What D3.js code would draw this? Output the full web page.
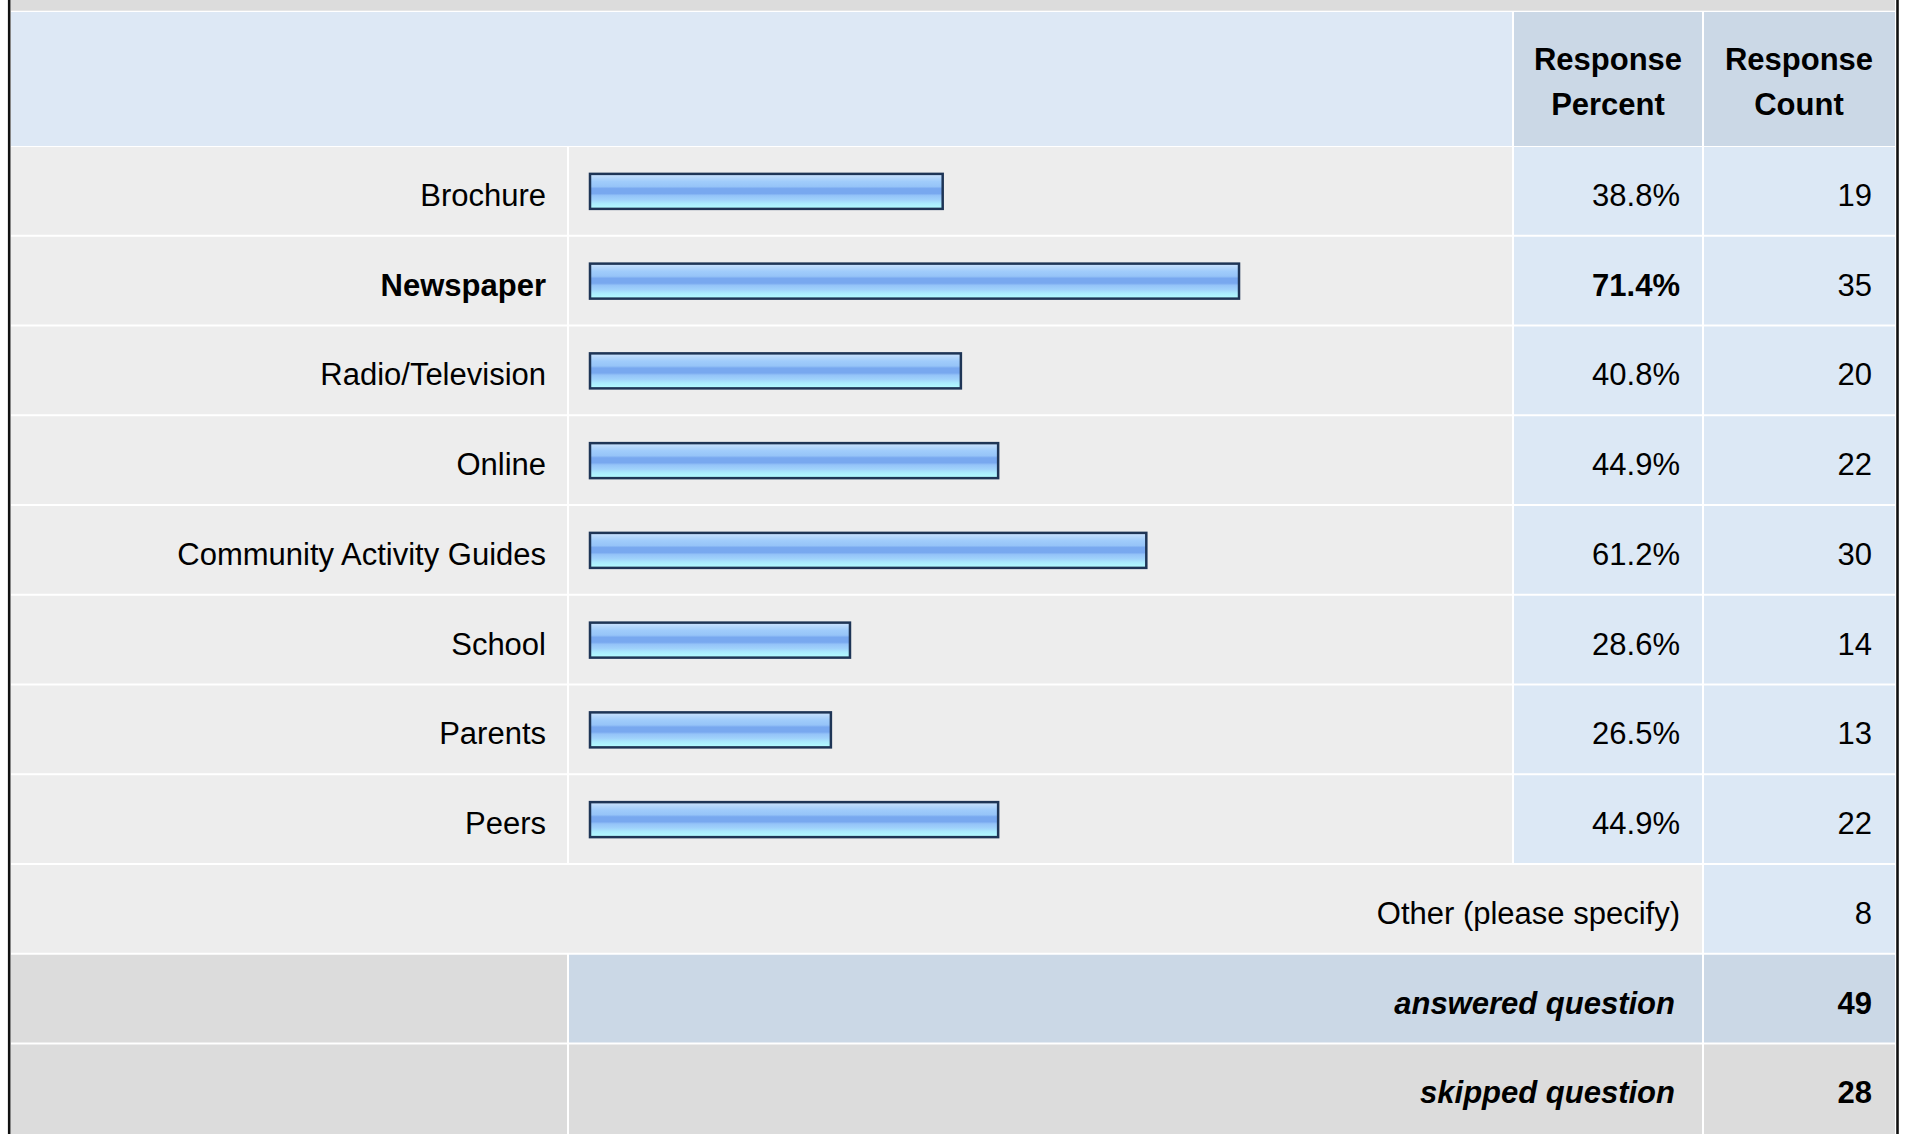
<!DOCTYPE html>
<html>
<head>
<meta charset="utf-8">
<script src="https://cdn.jsdelivr.net/npm/d3@7"></script>
<style>
  body { margin: 0; background: #fff; }
  svg { display: block; font-family: "Liberation Sans", Arial, sans-serif; }
</style>
</head>
<body>
<div id="chart"></div>
<script>
// Survey answers
const categories = ["Brochure", "Newspaper", "Radio/Television", "Online",
  "Community Activity Guides", "School", "Parents", "Peers"];
const percents = [38.8, 71.4, 40.8, 44.9, 61.2, 28.6, 26.5, 44.9];
const counts = [19, 35, 20, 22, 30, 14, 13, 22];
const headerLabels = [["Response", "Percent"], ["Response", "Count"]];
const otherLabel = "Other (please specify)";
const otherCount = 8;
const summaryLabels = ["answered question", "skipped question"];
const summaryCounts = [49, 28];

const W = 1909, H = 1134;
const fontSize = 31;

const svg = d3.select("#chart").append("svg")
    .attr("width", W)
    .attr("height", H);

// column edges (label | bar | percent | count)
const cols = [11, 568, 1513, 1703, 1895];
const cellX = i => cols[i] + (i > 0 ? 1 : 0);
const cellW = (a, b) => cols[b] - cellX(a) - (b < 4 ? 1 : 0);

// row positions: 0 = first data row, header sits above
const rowY = d3.scaleLinear().domain([0, 1]).range([147, 147 + 89.75]);
const rowH = 87.75;

// bar scale
const x = d3.scaleLinear().domain([0, 100]).range([590, 1499]);

const maxIdx = percents.indexOf(d3.max(percents));

// gradient for the bars
const defs = svg.append("defs");
const grad = defs.append("linearGradient")
    .attr("id", "barGrad")
    .attr("x1", "0%").attr("y1", "0%").attr("x2", "0%").attr("y2", "100%");
[["0%", "#cfe4fd"], ["12%", "#b3d6fb"], ["22%", "#a0ccfb"], ["36%", "#96c4f8"],
 ["42%", "#78a8ef"], ["56%", "#78a8ef"], ["62%", "#94c3f8"], ["74%", "#a0d2fb"],
 ["84%", "#aaeafd"], ["100%", "#b4ffff"]].forEach(s => {
  grad.append("stop").attr("offset", s[0]).attr("stop-color", s[1]);
});

// top strip from the previous table row
svg.append("rect")
    .attr("x", cellX(0)).attr("y", 0)
    .attr("width", cellW(0, 4)).attr("height", 10.7)
    .attr("fill", "#dcdcdc");

// header
svg.append("rect")
    .attr("x", cellX(0)).attr("y", 12)
    .attr("width", cellW(0, 2)).attr("height", 134)
    .attr("fill", "#dde8f5");
headerLabels.forEach((lines, j) => {
  const c = j + 2;
  svg.append("rect")
      .attr("x", cellX(c)).attr("y", 12)
      .attr("width", cellW(c, c + 1)).attr("height", 134)
      .attr("fill", "#cbd8e6");
  const cx = (cols[c] + cols[c + 1]) / 2;
  lines.forEach((t, k) => {
    svg.append("text")
        .attr("x", cx).attr("y", 70 + k * 45)
        .attr("text-anchor", "middle")
        .attr("font-size", fontSize)
        .attr("font-weight", "bold")
        .text(t);
  });
});

// data rows
const rows = svg.selectAll(".row")
  .data(categories)
  .join("g")
    .attr("class", "row")
    .attr("transform", (d, i) => `translate(0,${rowY(i)})`);

const fills = ["#ededed", "#ededed", "#dce8f5", "#dce8f5"];
fills.forEach((f, c) => {
  rows.append("rect")
      .attr("x", cellX(c)).attr("y", 0)
      .attr("width", cellW(c, c + 1)).attr("height", rowH)
      .attr("fill", f);
});

const baseY = rowH / 2 + 15;

rows.append("text")
    .attr("x", 546).attr("y", baseY)
    .attr("text-anchor", "end")
    .attr("font-size", fontSize)
    .attr("font-weight", (d, i) => i === maxIdx ? "bold" : "normal")
    .text(d => d);

rows.append("rect")
    .attr("x", x(0))
    .attr("y", rowH / 2 - 17)
    .attr("width", (d, i) => x(percents[i]) - x(0))
    .attr("height", 35)
    .attr("fill", "url(#barGrad)")
    .attr("stroke", "#1e3556")
    .attr("stroke-width", 2.5);

rows.append("text")
    .attr("x", 1680).attr("y", baseY)
    .attr("text-anchor", "end")
    .attr("font-size", fontSize)
    .attr("font-weight", (d, i) => i === maxIdx ? "bold" : "normal")
    .text((d, i) => percents[i].toFixed(1) + "%");

rows.append("text")
    .attr("x", 1872).attr("y", baseY)
    .attr("text-anchor", "end")
    .attr("font-size", fontSize)
    .text((d, i) => counts[i]);

// "other" row
const nData = categories.length;
const other = svg.append("g").attr("transform", `translate(0,${rowY(nData)})`);
other.append("rect")
    .attr("x", cellX(0)).attr("y", 0)
    .attr("width", cellW(0, 3)).attr("height", rowH)
    .attr("fill", "#ededed");
other.append("rect")
    .attr("x", cellX(3)).attr("y", 0)
    .attr("width", cellW(3, 4)).attr("height", rowH)
    .attr("fill", "#dce8f5");
other.append("text")
    .attr("x", 1680).attr("y", baseY)
    .attr("text-anchor", "end").attr("font-size", fontSize)
    .text(otherLabel);
other.append("text")
    .attr("x", 1872).attr("y", baseY)
    .attr("text-anchor", "end").attr("font-size", fontSize)
    .text(otherCount);

// summary rows
const sumFill = [["#dcdcdc", "#cbd8e6", "#cbd8e6"], ["#dcdcdc", "#dcdcdc", "#dcdcdc"]];
summaryLabels.forEach((lab, k) => {
  const g = svg.append("g").attr("transform", `translate(0,${rowY(nData + 1 + k)})`);
  const h = k === 1 ? 200 : rowH;
  g.append("rect").attr("x", cellX(0)).attr("y", 0)
      .attr("width", cellW(0, 1)).attr("height", h).attr("fill", sumFill[k][0]);
  g.append("rect").attr("x", cellX(1)).attr("y", 0)
      .attr("width", cellW(1, 3)).attr("height", h).attr("fill", sumFill[k][1]);
  g.append("rect").attr("x", cellX(3)).attr("y", 0)
      .attr("width", cellW(3, 4)).attr("height", h).attr("fill", sumFill[k][2]);
  g.append("text")
      .attr("x", 1675).attr("y", baseY)
      .attr("text-anchor", "end").attr("font-size", fontSize)
      .attr("font-weight", "bold").attr("font-style", "italic")
      .text(lab);
  g.append("text")
      .attr("x", 1872).attr("y", baseY)
      .attr("text-anchor", "end").attr("font-size", fontSize)
      .attr("font-weight", "bold")
      .text(summaryCounts[k]);
});

// outer table border (left and right)
[9.2, 1897.5].forEach(bx => {
  svg.append("line")
      .attr("x1", bx).attr("x2", bx)
      .attr("y1", 0).attr("y2", H)
      .attr("stroke", "#111").attr("stroke-width", 2.6);
});
</script>
</body>
</html>
